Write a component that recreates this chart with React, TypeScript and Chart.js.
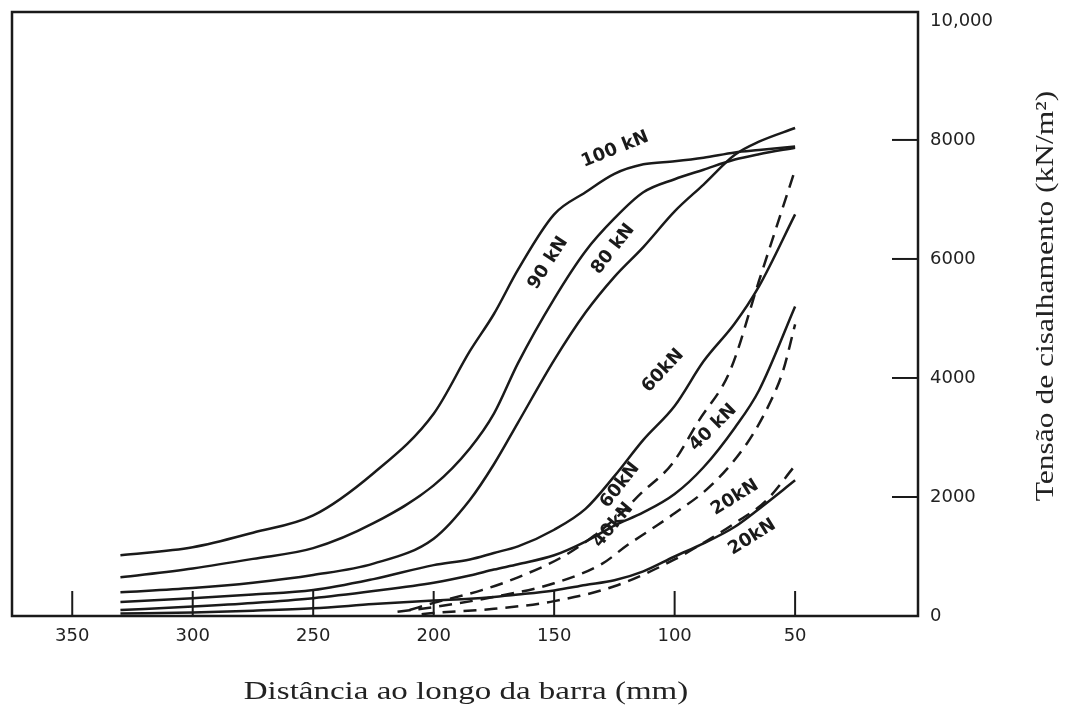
import React, { useEffect, useRef } from "react";
import { Chart, registerables } from "chart.js";

Chart.register(...registerables);

// Distance along the bar (mm) for the solid curves
const solidDist = [330, 300, 275, 250, 225, 200, 185, 175, 165, 150, 137, 125, 113, 100, 88, 75, 65, 50];
// Shear stress (kN/m²) for the solid curves
const solid100 = [1020, 1155, 1400, 1690, 2400, 3400, 4450, 5075, 5820, 6750, 7120, 7430, 7590, 7640, 7700, 7790, 7830, 7890];
const solid90 = [650, 800, 960, 1140, 1560, 2195, 2815, 3400, 4250, 5330, 6130, 6680, 7120, 7340, 7500, 7670, 7760, 7870];
const solid80 = [400, 470, 560, 690, 880, 1300, 1950, 2550, 3250, 4300, 5100, 5700, 6200, 6800, 7250, 7750, 7970, 8200];
const solid60 = [235, 300, 360, 435, 620, 855, 950, 1060, 1170, 1450, 1800, 2350, 2960, 3530, 4280, 4920, 5540, 6750];
const solid40 = [100, 160, 220, 300, 420, 560, 680, 780, 870, 1020, 1250, 1520, 1740, 2050, 2500, 3165, 3790, 5200];
const solid20 = [40, 60, 90, 130, 200, 260, 290, 320, 360, 430, 520, 600, 750, 1000, 1220, 1500, 1800, 2280];

// Dashed curves
const dashed60Dist = [210, 200, 180, 165, 144, 124, 114, 101, 90, 77, 65, 50];
const dashed60 = [100, 220, 435, 650, 1055, 1660, 2060, 2560, 3280, 4120, 5630, 7500];
const dashed40Dist = [215, 200, 175, 150, 130, 120, 110, 100, 85, 70, 60, 55, 50];
const dashed40 = [70, 150, 320, 550, 880, 1180, 1450, 1725, 2190, 2900, 3620, 4120, 4900];
const dashed20Dist = [205, 200, 175, 150, 125, 100, 88, 75, 62, 50];
const dashed20 = [30, 50, 120, 250, 500, 950, 1230, 1560, 1940, 2530];

// Axis ticks
const xTickValues = [350, 300, 250, 200, 150, 100, 50];
const yTickValues = [0, 2000, 4000, 6000, 8000, 10000];
const yTickLabels = ["0", "2000", "4000", "6000", "8000", "10,000"];
const innerYTicks = [2000, 4000, 6000, 8000];

// Curve annotations
const curveLabels = ["100 kN", "90 kN", "80 kN", "60kN", "60kN", "40 kN", "40kN", "20kN", "20kN"];
const labelDist = [124.7, 152.5, 125.5, 104.8, 122.6, 84, 125.5, 75, 67.8];
const labelStress = [7840, 5930, 6165, 4120, 2195, 3165, 1525, 1990, 1325];
const labelAngle = [-22, -57, -52, -47, -52, -45, -50, -32, -32];

const xTitle = "Distância ao longo da barra (mm)";
const yTitle = "Tensão de cisalhamento (kN/m²)";

const INK = "#1a1a1a";

function pts(xs: number[], ys: number[]) {
  return xs.map((x, i) => ({ x, y: ys[i] }));
}

const decorPlugin = {
  id: "decor",
  afterDatasetsDraw(chart: any) {
    const { ctx, chartArea, scales } = chart;
    const xs = scales.x;
    const ys = scales.y;
    ctx.save();
    // frame
    ctx.strokeStyle = INK;
    ctx.lineWidth = 2.5;
    ctx.strokeRect(chartArea.left, chartArea.top, chartArea.right - chartArea.left, chartArea.bottom - chartArea.top);
    // inward ticks
    ctx.lineWidth = 2;
    xTickValues.forEach((v) => {
      const px = xs.getPixelForValue(v);
      ctx.beginPath();
      ctx.moveTo(px, chartArea.bottom);
      ctx.lineTo(px, chartArea.bottom - 25);
      ctx.stroke();
    });
    innerYTicks.forEach((v) => {
      const py = ys.getPixelForValue(v);
      ctx.beginPath();
      ctx.moveTo(chartArea.right, py);
      ctx.lineTo(chartArea.right - 26, py);
      ctx.stroke();
    });
    // curve labels
    ctx.fillStyle = INK;
    ctx.font = "bold 18px 'DejaVu Sans'";
    ctx.textAlign = "center";
    ctx.textBaseline = "middle";
    curveLabels.forEach((t, i) => {
      const px = xs.getPixelForValue(labelDist[i]);
      const py = ys.getPixelForValue(labelStress[i]);
      ctx.save();
      ctx.translate(px, py);
      ctx.rotate((labelAngle[i] * Math.PI) / 180);
      ctx.fillText(t, 0, 0);
      ctx.restore();
    });
    // axis titles
    ctx.fillStyle = "#222";
    ctx.font = "25px 'Liberation Serif'";
    ctx.textAlign = "center";
    ctx.textBaseline = "alphabetic";
    ctx.save();
    ctx.translate((chartArea.left + chartArea.right) / 2 + 1, 699);
    ctx.scale(1.32, 1);
    ctx.fillText(xTitle, 0, 0);
    ctx.restore();
    ctx.save();
    ctx.translate(chart.width - 17, 296);
    ctx.rotate(-Math.PI / 2);
    ctx.scale(1.26, 1);
    ctx.fillText(yTitle, 0, 0);
    ctx.restore();
    ctx.restore();
  },
};

export default function App() {
  const canvasRef = useRef<HTMLCanvasElement | null>(null);

  useEffect(() => {
    const canvas = canvasRef.current;
    if (!canvas) return;
    const solid = (data: number[]) => ({
      data: pts(solidDist, data),
      borderColor: INK,
      borderWidth: 2.5,
      pointRadius: 0,
      fill: false,
      cubicInterpolationMode: "monotone" as const,
    });
    const dashed = (xsArr: number[], data: number[]) => ({
      data: pts(xsArr, data),
      borderColor: INK,
      borderWidth: 2.5,
      borderDash: [13, 8],
      pointRadius: 0,
      fill: false,
      cubicInterpolationMode: "monotone" as const,
    });
    const chart = new Chart(canvas, {
      type: "line",
      data: {
        datasets: [
          solid(solid100),
          solid(solid90),
          solid(solid80),
          solid(solid60),
          solid(solid40),
          solid(solid20),
          dashed(dashed60Dist, dashed60),
          dashed(dashed40Dist, dashed40),
          dashed(dashed20Dist, dashed20),
        ],
      },
      options: {
        animation: false,
        responsive: false,
        maintainAspectRatio: false,
        layout: { padding: { left: 12, top: 12, right: 0, bottom: 0 } },
        plugins: { legend: { display: false }, tooltip: { enabled: false } },
        scales: {
          x: {
            type: "linear",
            position: "bottom",
            reverse: true,
            min: -1,
            max: 375,
            grid: { display: false, drawTicks: false },
            border: { display: false },
            afterBuildTicks: (s: any) => {
              s.ticks = xTickValues.map((v) => ({ value: v }));
            },
            afterFit: (s: any) => {
              s.height = 100;
              s.paddingLeft = 0;
              s.paddingRight = 0;
            },
            ticks: {
              padding: 10,
              color: "#222",
              font: { family: "'DejaVu Sans'", size: 18 },
              maxRotation: 0,
              autoSkip: false,
              callback: (v: any) => String(v),
            },
          },
          y: {
            type: "linear",
            position: "right",
            min: 0,
            max: 10150,
            grid: { display: false, drawTicks: false },
            border: { display: false },
            afterBuildTicks: (s: any) => {
              s.ticks = yTickValues.map((v) => ({ value: v }));
            },
            afterFit: (s: any) => {
              s.width = 152;
              s.paddingTop = 0;
              s.paddingBottom = 0;
            },
            ticks: {
              padding: 12,
              color: "#222",
              font: { family: "'DejaVu Sans'", size: 18 },
              autoSkip: false,
              callback: (v: any) => {
                const i = yTickValues.indexOf(Number(v));
                return i >= 0 ? yTickLabels[i] : "";
              },
            },
          },
        },
      },
      plugins: [decorPlugin],
    });
    return () => chart.destroy();
  }, []);

  return (
    <div style={{ position: "fixed", left: 0, top: 0, width: 1070, height: 716, background: "#fff" }}>
      <canvas ref={canvasRef} width={1070} height={716} style={{ width: 1070, height: 716 }} />
    </div>
  );
}
